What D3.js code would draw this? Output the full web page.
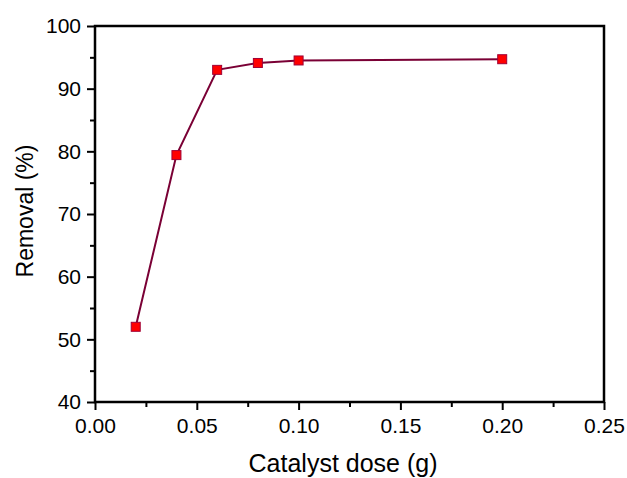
<!DOCTYPE html>
<html>
<head>
<meta charset="utf-8">
<script src="https://cdn.jsdelivr.net/npm/d3@7"></script>
<style>
  body { margin: 0; background: #fff; }
  text { font-family: "Liberation Sans", Arial, sans-serif; fill: #000; }
</style>
</head>
<body>
<div id="chart"></div>
<script>
// catalyst dose (g) vs removal (%)
const doses = [0.02, 0.04, 0.06, 0.08, 0.10, 0.20];
const removal = [52.0, 79.4, 93.0, 94.1, 94.5, 94.7];
const xTicks = [0, 0.05, 0.10, 0.15, 0.20, 0.25];
const yTicks = [40, 50, 60, 70, 80, 90, 100];

const W = 627, H = 478;
const margin = {top: 26, right: 23, bottom: 76, left: 95};
const width = W - margin.left - margin.right,
    height = H - margin.top - margin.bottom;

const svg = d3.select("#chart").append("svg")
    .attr("width", W)
    .attr("height", H);

const g = svg.append("g")
    .attr("transform", "translate(" + margin.left + "," + margin.top + ")");

const x = d3.scaleLinear().domain([0, 0.25]).range([0, width]);
const y = d3.scaleLinear().domain([40, 100]).range([height, 0]);

// minor ticks
const xMinor = d3.range(0.025, 0.25, 0.05);
const yMinor = d3.range(45, 100, 10);

g.append("g")
    .attr("transform", "translate(0," + height + ")")
    .call(d3.axisBottom(x).tickValues(xMinor).tickSize(5).tickFormat(""))
    .call(a => a.select(".domain").remove());
g.append("g")
    .call(d3.axisLeft(y).tickValues(yMinor).tickSize(5).tickFormat(""))
    .call(a => a.select(".domain").remove());

const xAxis = g.append("g")
    .attr("transform", "translate(0," + height + ")")
    .call(d3.axisBottom(x).tickValues(xTicks).tickSize(8).tickPadding(8)
        .tickFormat(d3.format(".2f")));
const yAxis = g.append("g")
    .call(d3.axisLeft(y).tickValues(yTicks).tickSize(8).tickPadding(6));

g.selectAll(".tick line").attr("stroke", "#000").attr("stroke-width", 2);
[xAxis, yAxis].forEach(a => {
    a.select(".domain").remove();
    a.selectAll("text").attr("font-size", 21).style("font-family", '"Liberation Sans", Arial, sans-serif');
});

// frame
g.append("rect")
    .attr("x", 0).attr("y", 0)
    .attr("width", width).attr("height", height)
    .attr("fill", "none")
    .attr("stroke", "#000")
    .attr("stroke-width", 2.5);

const pts = doses.map((d, i) => ({x: d, y: removal[i]}));

g.append("path")
    .datum(pts)
    .attr("fill", "none")
    .attr("stroke", "#7a0035")
    .attr("stroke-width", 2)
    .attr("d", d3.line().x(d => x(d.x)).y(d => y(d.y)));

const s = 9;
g.selectAll(".pt")
    .data(pts)
    .enter().append("rect")
    .attr("class", "pt")
    .attr("x", d => x(d.x) - s / 2)
    .attr("y", d => y(d.y) - s / 2)
    .attr("width", s).attr("height", s)
    .attr("fill", "#ff0000")
    .attr("stroke", "#a00035")
    .attr("stroke-width", 1);

// axis titles
svg.append("text")
    .attr("x", 343)
    .attr("y", 472)
    .attr("text-anchor", "middle")
    .attr("font-size", 25)
    .text("Catalyst dose (g)");

svg.append("text")
    .attr("transform", "translate(33,211) rotate(-90)")
    .attr("text-anchor", "middle")
    .attr("font-size", 23)
    .text("Removal (%)");
</script>
</body>
</html>
